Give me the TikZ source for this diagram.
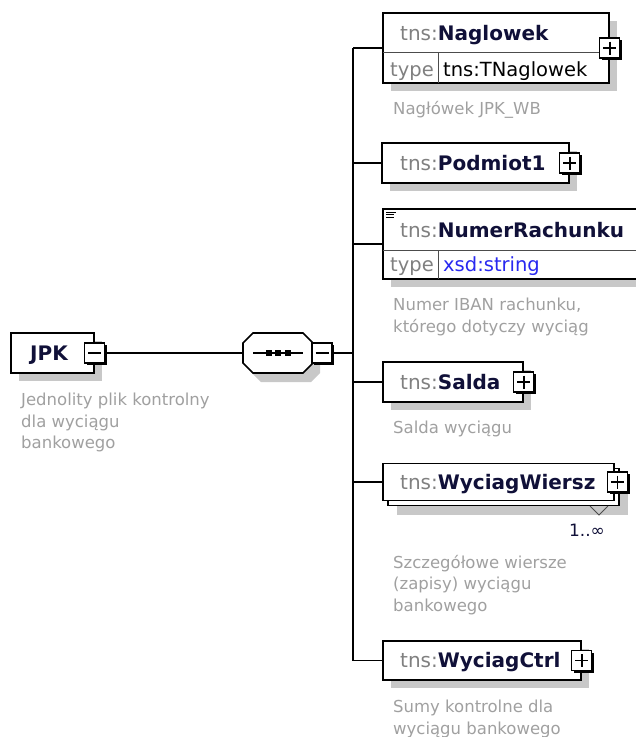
\documentclass[tikz,border=0pt]{standalone}
\usepackage{fontspec}
\setmainfont{DejaVu Sans}
\usetikzlibrary{shadows}

\definecolor{pregray}{RGB}{128,128,128}
\definecolor{namecol}{RGB}{16,16,56}
\definecolor{descgray}{RGB}{160,160,160}
\definecolor{shadowgray}{RGB}{200,200,200}
\definecolor{xsdblue}{RGB}{40,40,240}

\newcommand\tns{\textcolor{pregray}{tns:}}

\tikzset{
  elbox/.style={draw=black, line width=1.6pt, fill=white, inner sep=0pt},
  bshadow/.style={drop shadow={shadow xshift=8pt, shadow yshift=-8pt, fill=shadowgray, opacity=1}},
  btn/.style={draw=black, line width=1.2pt, fill=white, minimum size=20pt, inner sep=0pt,
    drop shadow={shadow xshift=2.2pt, shadow yshift=-2.2pt, fill=black, opacity=1}},
  sign/.style={line width=1.4pt},
  ttl/.style={anchor=west, inner sep=0pt, text height=14pt, text depth=0pt, text=namecol,
    font=\fontsize{20}{24}\selectfont},
  typ/.style={anchor=west, inner sep=0pt, text height=14pt, text depth=0pt,
    font=\fontsize{19.5}{23}\selectfont},
  desc/.style={anchor=north west, inner sep=0pt, align=left, text=descgray,
    font=\fontsize{16.5}{21.5}\selectfont},
  row/.style={line width=1pt, black!70},
  conn/.style={line width=1.8pt}
}

\begin{document}
\begin{tikzpicture}[x=1pt, y=-1pt]
\useasboundingbox (0,0) rectangle (636,737);

% root element
\node[elbox, bshadow, minimum width=83pt, minimum height=40pt] (jpk) at (52.5,353) {};
\node[ttl] (jpkt) at (30,353) {\textbf{JPK}};
\node[btn] (jpkbtn) at (jpk.east) {};
\draw[sign] (jpkbtn.center) +(-6.5,0) -- +(6.5,0);
\node[desc] (jpkd) at (21,393) {Jednolity plik kontrolny\\dla wyciągu\\bankowego};

% sequence compositor
\coordinate (seqL) at (243,353);
\draw[line width=1.6pt, fill=white, drop shadow={shadow xshift=8pt, shadow yshift=-9pt, fill=shadowgray, opacity=1}]
  (243,343) -- (253,333) -- (303,333) -- (312,342) -- (312,364) -- (303,373) -- (253,373) -- (243,363) -- cycle;
\draw[line width=1.6pt] (253,353) -- (303,353);
\fill[black] (265.5,350) rectangle +(6,6);
\fill[black] (275,350) rectangle +(6,6);
\fill[black] (284.5,350) rectangle +(6,6);
\node[btn] (seqbtn) at (322,353) {};
\draw[sign] (seqbtn.center) +(-6.5,0) -- +(6.5,0);
\coordinate (bus) at (353,353);

% Naglowek
\node[elbox, bshadow, minimum width=226pt, minimum height=70pt] (nagl) at (496,48) {};
\draw[row] (383,52) -- (609,52);
\draw[row] (438,52) -- (438,83);
\node[ttl] (naglt) at (400,33) {\tns\textbf{Naglowek}};
\node[typ, text=pregray] (naglty) at (390,69) {type};
\node[typ, text=black] (naglv) at (443,69) {tns:TNaglowek};
\node[btn] (naglbtn) at (nagl.east) {};
\draw[sign] (naglbtn.center) +(-6.5,0) -- +(6.5,0);
\draw[sign] (naglbtn.center) +(0,-6.5) -- +(0,6.5);
\node[desc] (nagld) at (393,101) {Nagłówek JPK\_WB};

% Podmiot1
\node[elbox, bshadow, minimum width=187pt, minimum height=40pt] (pod) at (475.5,163) {};
\node[ttl] (podt) at (400,163) {\tns\textbf{Podmiot1}};
\node[btn] (podbtn) at (pod.east) {};
\draw[sign] (podbtn.center) +(-6.5,0) -- +(6.5,0);
\draw[sign] (podbtn.center) +(0,-6.5) -- +(0,6.5);

% NumerRachunku
\node[elbox, bshadow, minimum width=258pt, minimum height=70pt] (num) at (512,244) {};
\draw[row] (383,250) -- (640,250);
\draw[row] (438,250) -- (438,279);
\draw[line width=1pt] (386,212) -- (396,212);
\draw[line width=1pt] (386,214.5) -- (394,214.5);
\draw[line width=1pt] (386,217) -- (394,217);
\node[ttl] (numt) at (400,230) {\tns\textbf{NumerRachunku}};
\node[typ, text=pregray] (numty) at (390,264) {type};
\node[typ, text=xsdblue] (numv) at (443,264) {xsd:string};
\node[desc] (numd) at (393,298) {Numer IBAN rachunku,\\którego dotyczy wyciąg};

% Salda
\node[elbox, bshadow, minimum width=140pt, minimum height=40pt] (salda) at (453,382) {};
\node[ttl] (saldat) at (400,382) {\tns\textbf{Salda}};
\node[btn] (saldabtn) at (salda.east) {};
\draw[sign] (saldabtn.center) +(-6.5,0) -- +(6.5,0);
\draw[sign] (saldabtn.center) +(0,-6.5) -- +(0,6.5);
\node[desc] (saldad) at (393,421) {Salda wyciągu};

% WyciagWiersz (1..unbounded)
\node[elbox, drop shadow={shadow xshift=9pt, shadow yshift=-9pt, fill=shadowgray, opacity=1},
  minimum width=231pt, minimum height=37pt] (wierback) at (503.5,487) {};
\node[elbox, minimum width=231pt, minimum height=37pt] (wier) at (498.5,482) {};
\node[ttl] (wiert) at (400,482) {\tns\textbf{WyciagWiersz}};
\node[btn] (wierbtn) at ([xshift=2.5pt]wier.east) {};
\draw[sign] (wierbtn.center) +(-6.5,0) -- +(6.5,0);
\draw[sign] (wierbtn.center) +(0,-6.5) -- +(0,6.5);
\draw[line width=1pt, black!70] (590,506) -- (599,515) -- (608,506);
\node[inner sep=0pt, text=namecol, font=\fontsize{17}{20}\selectfont] (wierocc) at (587,530) {1..∞};
\node[desc] (wierd) at (393,555) {Szczegółowe wiersze\\(zapisy) wyciągu\\bankowego};

% WyciagCtrl
\node[elbox, bshadow, minimum width=198pt, minimum height=39pt] (ctrl) at (482,660.5) {};
\node[ttl] (ctrlt) at (400,660) {\tns\textbf{WyciagCtrl}};
\node[btn] (ctrlbtn) at (ctrl.east) {};
\draw[sign] (ctrlbtn.center) +(-6.5,0) -- +(6.5,0);
\draw[sign] (ctrlbtn.center) +(0,-6.5) -- +(0,6.5);
\node[desc] (ctrld) at (393,700) {Sumy kontrolne dla\\wyciągu bankowego};

% connectors
\draw[conn] (jpkbtn.east) -- (seqL);
\draw[conn] (seqbtn.east) -- (bus);
\draw[conn] (bus |- nagl.west) -- (bus |- ctrl.west);
\draw[conn] (bus |- nagl.west) -- (nagl.west);
\draw[conn] (bus |- pod.west) -- (pod.west);
\draw[conn] (bus |- num.west) -- (num.west);
\draw[conn] (bus |- salda.west) -- (salda.west);
\draw[conn] (bus |- wier.west) -- (wier.west);
\draw[conn] (bus |- ctrl.west) -- (ctrl.west);
\end{tikzpicture}
\end{document}
